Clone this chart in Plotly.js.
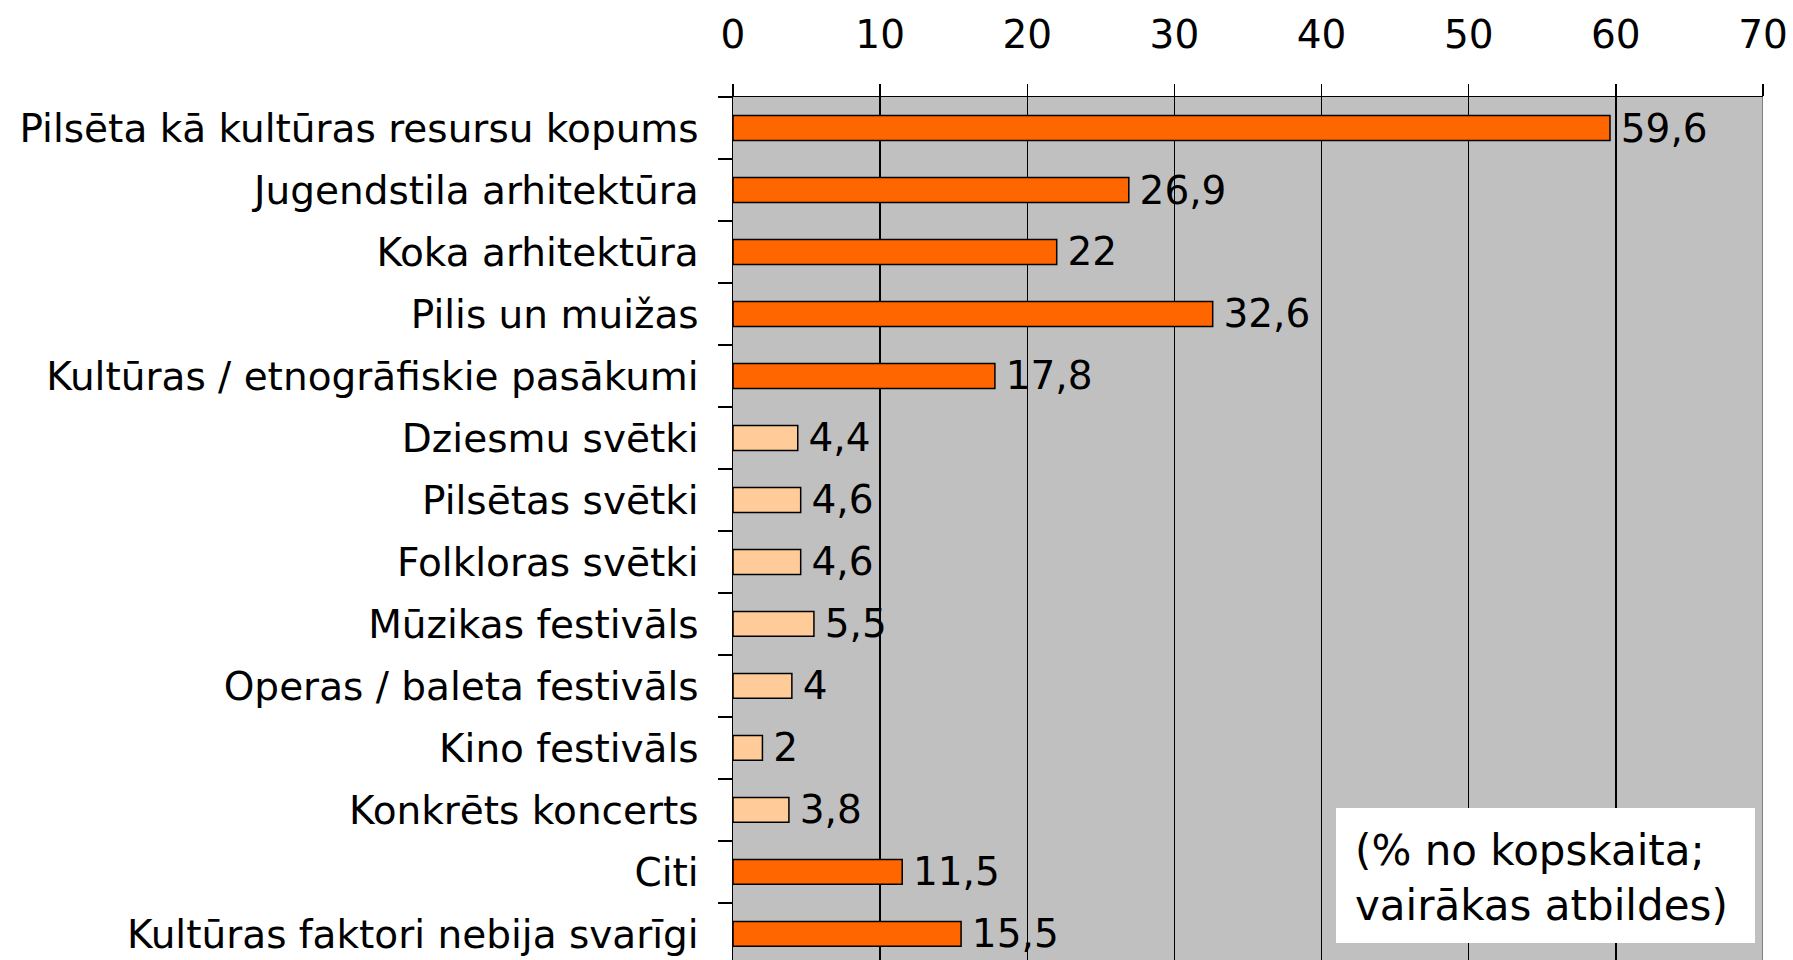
<!DOCTYPE html>
<html>
<head>
<meta charset="utf-8">
<script src="https://cdn.plot.ly/plotly-3.0.1.min.js"></script>
<style>html,body{margin:0;padding:0;overflow:hidden;background:#fff}</style>
</head>
<body>
<div id="chart" style="width:1793px;height:960px"></div>
<script>
const categories = [
  "Pilsēta kā kultūras resursu kopums",
  "Jugendstila arhitektūra",
  "Koka arhitektūra",
  "Pilis un muižas",
  "Kultūras / etnogrāfiskie pasākumi",
  "Dziesmu svētki",
  "Pilsētas svētki",
  "Folkloras svētki",
  "Mūzikas festivāls",
  "Operas / baleta festivāls",
  "Kino festivāls",
  "Konkrēts koncerts",
  "Citi",
  "Kultūras faktori nebija svarīgi"
];
const values = [59.6, 26.9, 22, 32.6, 17.8, 4.4, 4.6, 4.6, 5.5, 4, 2, 3.8, 11.5, 15.5];
const groups = ["main","main","main","main","main","event","event","event","event","event","event","event","main","main"];
const tickValues = [0, 10, 20, 30, 40, 50, 60, 70];
const noteText = "(% no kopskaita;<br>vairākas atbildes)";

const colorFor = {main: "#FF6600", event: "#FFCC99"};
const FONT = "DejaVu Sans, Verdana, sans-serif";

const trace = {
  type: "bar",
  orientation: "h",
  y: categories,
  x: values,
  width: 0.4,
  marker: {color: groups.map(g => colorFor[g]), line: {color: "#000", width: 1.5}},
  text: values.map(v => "\u2009" + String(v).replace(".", ",")),
  textposition: "outside",
  constraintext: "none",
  cliponaxis: false,
  textfont: {family: FONT, size: 39, color: "#000"},
  hoverinfo: "none"
};

const layout = {
  width: 1793, height: 960,
  margin: {l: 733, r: 30, t: 97, b: 0},
  paper_bgcolor: "#fff",
  plot_bgcolor: "#C0C0C0",
  showlegend: false,
  font: {family: FONT, size: 39, color: "#000"},
  xaxis: {
    side: "top",
    range: [0, 70],
    tickvals: tickValues,
    ticktext: tickValues.map(String),
    ticks: "outside", ticklen: 12, tickwidth: 1.5, tickcolor: "#000",
    ticklabelstandoff: 20,
    showgrid: true, gridcolor: "#000", gridwidth: 1.5,
    showline: true, linecolor: "#000", linewidth: 1.5,
    zeroline: false,
    tickfont: {family: FONT, size: 39, color: "#000"}
  },
  yaxis: {
    type: "category",
    range: [13.42, -0.5],
    ticks: "outside", tickson: "boundaries", ticklen: 14, tickwidth: 1.5, tickcolor: "#000",
    ticklabelstandoff: 25,
    showline: true, linecolor: "#000", linewidth: 1.5,
    showgrid: false, zeroline: false,
    tickfont: {family: FONT, size: 39, color: "#000"}
  },
  shapes: [
    {type: "line", xref: "x", yref: "paper", x0: 70, x1: 70, y0: 0, y1: 1, line: {color: "#808080", width: 2}},
    {type: "rect", xref: "paper", yref: "paper", x0: (1336-733)/1030, x1: (1755-733)/1030, y0: (960-943)/863, y1: (960-808)/863, fillcolor: "#fff", line: {width: 0}}
  ],
  annotations: [
    {xref: "paper", yref: "paper", x: (1353-733)/1030, y: (960-878)/863, xanchor: "left", yanchor: "middle", align: "left",
     text: noteText, showarrow: false, font: {family: FONT, size: 42, color: "#000"}}
  ]
};

Plotly.newPlot("chart", [trace], layout, {displayModeBar: false, staticPlot: true});
</script>
</body>
</html>
